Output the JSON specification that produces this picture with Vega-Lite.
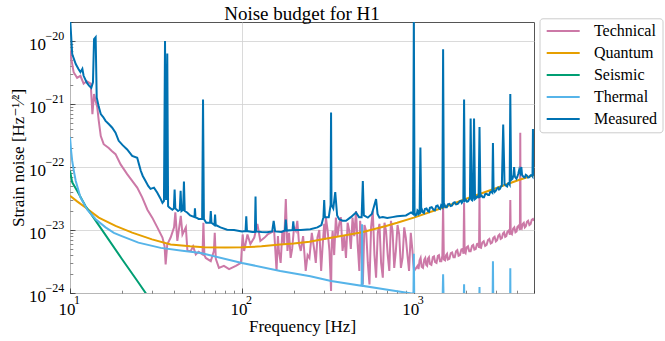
{
"$schema": "https://vega.github.io/schema/vega-lite/v6.json",
"width": 464, "height": 271,
"autosize": {"type": "none"},
"padding": {"left": 70, "top": 22, "right": 131, "bottom": 48},
"title": {"text": "Noise budget for H1", "font": "Liberation Serif, Times New Roman, DejaVu Serif, serif", "fontSize": 19, "fontWeight": "normal", "anchor": "middle", "frame": "group", "baseline": "alphabetic", "offset": -28.5, "color": "black"},
"config": {
  "view": {"stroke": "#555555", "strokeWidth": 1},
  "font": "Liberation Serif, Times New Roman, DejaVu Serif, serif",
  "legend": {"orient": "none", "legendX": 469.5, "legendY": -3.7, "symbolType": "M-1,0H5", "symbolSize": 121, "symbolStrokeWidth": 2, "labelFont": "Liberation Serif, Times New Roman, DejaVu Serif, serif", "labelFontSize": 16, "labelColor": "black", "labelOffset": 33.7, "padding": 4.7, "rowPadding": 6, "strokeColor": "#cccccc", "fillColor": "white", "cornerRadius": 3}
},
"data": {"values": [
{"s":"Technical","f":10,"v":7e-21},{"s":"Technical","f":10.2,"v":5e-21},{"s":"Technical","f":10.5,"v":3.2e-21},{"s":"Technical","f":11,"v":2.6e-21},{"s":"Technical","f":11.5,"v":2.8e-21},{"s":"Technical","f":12,"v":2.1e-21},{"s":"Technical","f":12.5,"v":2.3e-21},{"s":"Technical","f":13.2,"v":2.1e-21},{"s":"Technical","f":13.5,"v":6.9e-22},{"s":"Technical","f":13.8,"v":1.44e-21},{"s":"Technical","f":14.1,"v":1.1e-21},{"s":"Technical","f":14.4,"v":9e-22},{"s":"Technical","f":14.7,"v":5.4e-22},{"s":"Technical","f":15.1,"v":3.1e-22},{"s":"Technical","f":15.7,"v":2.3e-22},{"s":"Technical","f":16.8,"v":2.0e-22},{"s":"Technical","f":17.5,"v":1.8e-22},{"s":"Technical","f":18.4,"v":1.6e-22},{"s":"Technical","f":19.7,"v":1.1e-22},{"s":"Technical","f":21.5,"v":7.7e-23},{"s":"Technical","f":23,"v":6.0e-23},{"s":"Technical","f":24.6,"v":4.7e-23},{"s":"Technical","f":26.3,"v":3.3e-23},{"s":"Technical","f":28.2,"v":2.1e-23},{"s":"Technical","f":30.1,"v":1.57e-23},{"s":"Technical","f":32.2,"v":1.1e-23},{"s":"Technical","f":34.5,"v":7.6e-24},{"s":"Technical","f":35.5,"v":5.5e-24},{"s":"Technical","f":36,"v":2.85e-24},{"s":"Technical","f":36.8,"v":5.9e-24},{"s":"Technical","f":38.5,"v":7.6e-24},{"s":"Technical","f":40.3,"v":1.1e-23},{"s":"Technical","f":41,"v":1.9e-23},{"s":"Technical","f":42.1,"v":6.7e-24},{"s":"Technical","f":44.1,"v":1.68e-23},{"s":"Technical","f":45.1,"v":8.5e-24},{"s":"Technical","f":47.2,"v":1.1e-23},{"s":"Technical","f":48.2,"v":4.65e-24},{"s":"Technical","f":50.4,"v":4.65e-24},{"s":"Technical","f":52,"v":5.5e-24},{"s":"Technical","f":53.9,"v":4.1e-24},{"s":"Technical","f":56,"v":4.5e-24},{"s":"Technical","f":59,"v":4.1e-24},{"s":"Technical","f":59.7,"v":1.3e-23},{"s":"Technical","f":60.5,"v":4e-24},{"s":"Technical","f":61.6,"v":3.6e-24},{"s":"Technical","f":65.9,"v":3.2e-24},{"s":"Technical","f":68.7,"v":4.65e-24},{"s":"Technical","f":69.5,"v":9e-24},{"s":"Technical","f":70.5,"v":3.5e-24},{"s":"Technical","f":73.5,"v":2.5e-24},{"s":"Technical","f":78.6,"v":2.7e-24},{"s":"Technical","f":84.2,"v":2.4e-24},{"s":"Technical","f":92.2,"v":2.7e-24},{"s":"Technical","f":98.7,"v":3.0e-24},{"s":"Technical","f":101,"v":8.5e-24},{"s":"Technical","f":103,"v":4.65e-24},{"s":"Technical","f":107.7,"v":8.5e-24},{"s":"Technical","f":112,"v":6e-24},{"s":"Technical","f":118,"v":7.6e-24},{"s":"Technical","f":123,"v":1.25e-23},{"s":"Technical","f":128,"v":6.7e-24},{"s":"Technical","f":135,"v":7.5e-24},{"s":"Technical","f":141,"v":8.5e-24},{"s":"Technical","f":154,"v":9.7e-24},{"s":"Technical","f":159,"v":2.24e-24},{"s":"Technical","f":164,"v":4.65e-24},{"s":"Technical","f":172,"v":9.7e-24},{"s":"Technical","f":180,"v":3.1e-23},{"s":"Technical","f":184,"v":4.65e-24},{"s":"Technical","f":192,"v":3.6e-24},{"s":"Technical","f":206,"v":9.7e-24},{"s":"Technical","f":210,"v":1.4e-23},{"s":"Technical","f":220,"v":4.65e-24},{"s":"Technical","f":235,"v":2.24e-24},{"s":"Technical","f":247,"v":3.6e-24},{"s":"Technical","f":264,"v":4.65e-24},{"s":"Technical","f":275,"v":7.6e-24},{"s":"Technical","f":289,"v":2.24e-24},{"s":"Technical","f":301,"v":1.25e-23},{"s":"Technical","f":308,"v":1.57e-23},{"s":"Technical","f":323,"v":4.65e-24},{"s":"Technical","f":330,"v":1.08e-24},{"s":"Technical","f":337,"v":9.7e-24},{"s":"Technical","f":352,"v":1.57e-23},{"s":"Technical","f":368,"v":1.25e-23},{"s":"Technical","f":385,"v":4.65e-24},{"s":"Technical","f":403,"v":3.6e-24},{"s":"Technical","f":421,"v":9.7e-24},{"s":"Technical","f":440,"v":1.57e-23},{"s":"Technical","f":461,"v":2.0e-23},{"s":"Technical","f":482,"v":2.24e-24},{"s":"Technical","f":493,"v":9.7e-24},{"s":"Technical","f":505,"v":1.37e-24},{"s":"Technical","f":528,"v":9.7e-24},{"s":"Technical","f":552,"v":1.37e-24},{"s":"Technical","f":577,"v":2.0e-23},{"s":"Technical","f":603,"v":1.75e-24},{"s":"Technical","f":631,"v":1.25e-23},{"s":"Technical","f":660,"v":1.75e-24},{"s":"Technical","f":689,"v":9.7e-24},{"s":"Technical","f":720,"v":2.24e-24},{"s":"Technical","f":752,"v":9.7e-24},{"s":"Technical","f":786,"v":4.65e-24},{"s":"Technical","f":822,"v":8.5e-24},{"s":"Technical","f":860,"v":3.6e-24},{"s":"Technical","f":898,"v":7.6e-24},{"s":"Technical","f":938,"v":2.24e-24},{"s":"Technical","f":982,"v":4.65e-24},{"s":"Technical","f":1003,"v":2.24e-24},{"s":"Technical","f":1052,"v":2.7e-24},{"s":"Technical","f":1080,"v":3.3e-24},{"s":"Technical","f":1110,"v":2.6e-24},{"s":"Technical","f":1150,"v":3.4e-24},{"s":"Technical","f":1180,"v":2.8e-24},{"s":"Technical","f":1208,"v":3.5e-24},{"s":"Technical","f":1240,"v":2.9e-24},{"s":"Technical","f":1290,"v":3.7e-24},{"s":"Technical","f":1330,"v":3.1e-24},{"s":"Technical","f":1380,"v":3.9e-24},{"s":"Technical","f":1420,"v":3.2e-24},{"s":"Technical","f":1465,"v":3.9e-24},{"s":"Technical","f":1480,"v":2.5e-23},{"s":"Technical","f":1495,"v":3.4e-24},{"s":"Technical","f":1540,"v":4.0e-24},{"s":"Technical","f":1578,"v":3.4e-24},{"s":"Technical","f":1640,"v":4.3e-24},{"s":"Technical","f":1700,"v":3.7e-24},{"s":"Technical","f":1760,"v":4.6e-24},{"s":"Technical","f":1820,"v":3.9e-24},{"s":"Technical","f":1890,"v":4.9e-24},{"s":"Technical","f":1945,"v":4.2e-24},{"s":"Technical","f":1960,"v":2.7e-23},{"s":"Technical","f":1975,"v":4.5e-24},{"s":"Technical","f":2030,"v":5.3e-24},{"s":"Technical","f":2100,"v":4.6e-24},{"s":"Technical","f":2180,"v":5.6e-24},{"s":"Technical","f":2250,"v":4.9e-24},{"s":"Technical","f":2330,"v":6.0e-24},{"s":"Technical","f":2395,"v":5.2e-24},{"s":"Technical","f":2410,"v":3.9e-23},{"s":"Technical","f":2425,"v":5.3e-24},{"s":"Technical","f":2500,"v":6.3e-24},{"s":"Technical","f":2600,"v":5.6e-24},{"s":"Technical","f":2700,"v":6.9e-24},{"s":"Technical","f":2800,"v":6.1e-24},{"s":"Technical","f":2900,"v":7.5e-24},{"s":"Technical","f":3000,"v":6.6e-24},{"s":"Technical","f":3100,"v":8.1e-24},{"s":"Technical","f":3200,"v":7.2e-24},{"s":"Technical","f":3300,"v":8.8e-24},{"s":"Technical","f":3400,"v":7.8e-24},{"s":"Technical","f":3500,"v":9.4e-24},{"s":"Technical","f":3620,"v":8.4e-24},{"s":"Technical","f":3640,"v":3.0e-23},{"s":"Technical","f":3660,"v":9.0e-24},{"s":"Technical","f":3780,"v":1.05e-23},{"s":"Technical","f":3900,"v":9.2e-24},{"s":"Technical","f":4000,"v":1.12e-23},{"s":"Technical","f":4140,"v":1.0e-23},{"s":"Technical","f":4160,"v":3.5e-22},{"s":"Technical","f":4180,"v":1.1e-23},{"s":"Technical","f":4300,"v":1.25e-23},{"s":"Technical","f":4420,"v":1.1e-23},{"s":"Technical","f":4550,"v":1.35e-23},{"s":"Technical","f":4700,"v":1.2e-23},{"s":"Technical","f":4850,"v":1.45e-23},{"s":"Technical","f":5000,"v":1.4e-23},
{"s":"Quantum","f":10,"v":3.5e-23},{"s":"Quantum","f":11,"v":2.85e-23},{"s":"Quantum","f":12.3,"v":2.27e-23},{"s":"Quantum","f":14.7,"v":1.57e-23},{"s":"Quantum","f":18.4,"v":1.16e-23},{"s":"Quantum","f":23,"v":9.1e-24},{"s":"Quantum","f":30,"v":7.1e-24},{"s":"Quantum","f":38.5,"v":5.9e-24},{"s":"Quantum","f":50,"v":5.5e-24},{"s":"Quantum","f":60,"v":5.3e-24},{"s":"Quantum","f":80,"v":5.25e-24},{"s":"Quantum","f":100,"v":5.3e-24},{"s":"Quantum","f":130,"v":5.5e-24},{"s":"Quantum","f":167,"v":5.9e-24},{"s":"Quantum","f":200,"v":6.1e-24},{"s":"Quantum","f":247,"v":6.5e-24},{"s":"Quantum","f":300,"v":7.2e-24},{"s":"Quantum","f":385,"v":8.1e-24},{"s":"Quantum","f":500,"v":9.2e-24},{"s":"Quantum","f":689,"v":1.16e-23},{"s":"Quantum","f":800,"v":1.3e-23},{"s":"Quantum","f":1000,"v":1.57e-23},{"s":"Quantum","f":1500,"v":2.3e-23},{"s":"Quantum","f":2000,"v":3.1e-23},{"s":"Quantum","f":3000,"v":4.6e-23},{"s":"Quantum","f":4000,"v":6.1e-23},{"s":"Quantum","f":5000,"v":7.5e-23},
{"s":"Seismic","f":10,"v":8.7e-23},{"s":"Seismic","f":10.3,"v":5.7e-23},{"s":"Seismic","f":11,"v":4.2e-23},{"s":"Seismic","f":12.3,"v":2.4e-23},{"s":"Seismic","f":15,"v":1.1e-23},{"s":"Seismic","f":20,"v":3.5e-24},{"s":"Seismic","f":25,"v":1.47e-24},{"s":"Seismic","f":30,"v":7.1e-25},
{"s":"Thermal","f":10,"v":3.0e-22},{"s":"Thermal","f":10.15,"v":1.8e-22},{"s":"Thermal","f":10.3,"v":1.25e-22},{"s":"Thermal","f":10.5,"v":9e-23},{"s":"Thermal","f":10.8,"v":6.0e-23},{"s":"Thermal","f":11.5,"v":3.3e-23},{"s":"Thermal","f":12.6,"v":2.1e-23},{"s":"Thermal","f":14.1,"v":1.48e-23},{"s":"Thermal","f":16.1,"v":1.1e-23},{"s":"Thermal","f":18,"v":9e-24},{"s":"Thermal","f":20,"v":8e-24},{"s":"Thermal","f":25,"v":6.3e-24},{"s":"Thermal","f":33.7,"v":5.2e-24},{"s":"Thermal","f":45,"v":4.7e-24},{"s":"Thermal","f":57.7,"v":4.3e-24},{"s":"Thermal","f":100,"v":3.0e-24},{"s":"Thermal","f":167,"v":2.24e-24},{"s":"Thermal","f":250,"v":1.85e-24},{"s":"Thermal","f":330,"v":1.55e-24},{"s":"Thermal","f":497,"v":1.3e-24},{"s":"Thermal","f":500,"v":1.23e-23},{"s":"Thermal","f":503,"v":1.3e-24},{"s":"Thermal","f":689,"v":1.14e-24},{"s":"Thermal","f":995,"v":9.7e-25},{"s":"Thermal","f":1000,"v":4.2e-24},{"s":"Thermal","f":1005,"v":9.6e-25},{"s":"Thermal","f":1200,"v":8.5e-25},{"s":"Thermal","f":1470,"v":8e-25},{"s":"Thermal","f":1480,"v":1.98e-24},{"s":"Thermal","f":1490,"v":8e-25},{"s":"Thermal","f":1950,"v":7e-25},{"s":"Thermal","f":1960,"v":1.37e-24},{"s":"Thermal","f":1970,"v":7e-25},{"s":"Thermal","f":2400,"v":6.5e-25},{"s":"Thermal","f":2410,"v":1.25e-24},{"s":"Thermal","f":2420,"v":6.5e-25},{"s":"Thermal","f":2870,"v":6e-25},{"s":"Thermal","f":2885,"v":3.2e-24},{"s":"Thermal","f":2900,"v":6e-25},{"s":"Thermal","f":3630,"v":5.5e-25},{"s":"Thermal","f":3640,"v":2.46e-24},{"s":"Thermal","f":3650,"v":5.5e-25},{"s":"Thermal","f":5000,"v":5e-25},
{"s":"Measured","f":10,"v":2.5e-20},{"s":"Measured","f":10.3,"v":6.2e-21},{"s":"Measured","f":10.8,"v":4.3e-21},{"s":"Measured","f":11.2,"v":3.6e-21},{"s":"Measured","f":11.5,"v":3.2e-21},{"s":"Measured","f":11.8,"v":3.6e-21},{"s":"Measured","f":12,"v":2.8e-21},{"s":"Measured","f":12.5,"v":2.2e-21},{"s":"Measured","f":12.9,"v":1.95e-21},{"s":"Measured","f":13.3,"v":1.8e-21},{"s":"Measured","f":13.6,"v":2.2e-21},{"s":"Measured","f":13.8,"v":1.07e-20},{"s":"Measured","f":14.1,"v":1.15e-20},{"s":"Measured","f":14.3,"v":1.27e-21},{"s":"Measured","f":14.7,"v":9e-22},{"s":"Measured","f":15.1,"v":6.9e-22},{"s":"Measured","f":15.6,"v":6.2e-22},{"s":"Measured","f":16.1,"v":5.4e-22},{"s":"Measured","f":16.8,"v":4.8e-22},{"s":"Measured","f":17.6,"v":4.2e-22},{"s":"Measured","f":18.4,"v":3.5e-22},{"s":"Measured","f":19.2,"v":2.6e-22},{"s":"Measured","f":20.3,"v":2.2e-22},{"s":"Measured","f":21.5,"v":1.9e-22},{"s":"Measured","f":23,"v":1.5e-22},{"s":"Measured","f":24.6,"v":1.4e-22},{"s":"Measured","f":25.2,"v":1.1e-22},{"s":"Measured","f":25.8,"v":8.7e-23},{"s":"Measured","f":26.5,"v":7.2e-23},{"s":"Measured","f":27.5,"v":6.0e-23},{"s":"Measured","f":28.5,"v":5.0e-23},{"s":"Measured","f":29.4,"v":4.5e-23},{"s":"Measured","f":30.8,"v":4.7e-23},{"s":"Measured","f":32.2,"v":3.9e-23},{"s":"Measured","f":33.5,"v":3.2e-23},{"s":"Measured","f":34.5,"v":2.7e-23},{"s":"Measured","f":35.2,"v":2.9e-23},{"s":"Measured","f":35.7,"v":1.0e-20},{"s":"Measured","f":36.2,"v":3e-23},{"s":"Measured","f":36.8,"v":6.3e-21},{"s":"Measured","f":37.2,"v":2.4e-23},{"s":"Measured","f":37.7,"v":2.3e-23},{"s":"Measured","f":39.4,"v":2.1e-23},{"s":"Measured","f":40.2,"v":2.2e-23},{"s":"Measured","f":40.6,"v":4.4e-23},{"s":"Measured","f":41,"v":2.2e-23},{"s":"Measured","f":42.5,"v":2.0e-23},{"s":"Measured","f":43.5,"v":2.1e-23},{"s":"Measured","f":44,"v":4.2e-23},{"s":"Measured","f":44.5,"v":2.0e-23},{"s":"Measured","f":45.5,"v":2.1e-23},{"s":"Measured","f":46,"v":5.9e-23},{"s":"Measured","f":46.5,"v":2.0e-23},{"s":"Measured","f":48,"v":1.9e-23},{"s":"Measured","f":50,"v":1.7e-23},{"s":"Measured","f":53,"v":1.6e-23},{"s":"Measured","f":53.3,"v":2.2e-23},{"s":"Measured","f":53.7,"v":1.6e-23},{"s":"Measured","f":56,"v":1.5e-23},{"s":"Measured","f":58.7,"v":1.5e-23},{"s":"Measured","f":59.4,"v":1.18e-21},{"s":"Measured","f":60.1,"v":1.5e-23},{"s":"Measured","f":62,"v":1.3e-23},{"s":"Measured","f":65.3,"v":1.3e-23},{"s":"Measured","f":65.9,"v":2.0e-23},{"s":"Measured","f":66.5,"v":1.3e-23},{"s":"Measured","f":69.2,"v":1.2e-23},{"s":"Measured","f":69.8,"v":1.76e-23},{"s":"Measured","f":70.4,"v":1.2e-23},{"s":"Measured","f":75,"v":1.1e-23},{"s":"Measured","f":82,"v":1.01e-23},{"s":"Measured","f":90,"v":1.0e-23},{"s":"Measured","f":100,"v":9.5e-24},{"s":"Measured","f":105,"v":9.6e-24},{"s":"Measured","f":106,"v":1.65e-23},{"s":"Measured","f":107,"v":9.6e-24},{"s":"Measured","f":115,"v":9.3e-24},{"s":"Measured","f":119,"v":9.3e-24},{"s":"Measured","f":120,"v":3.4e-23},{"s":"Measured","f":121,"v":9.5e-24},{"s":"Measured","f":130,"v":9.3e-24},{"s":"Measured","f":140,"v":9.2e-24},{"s":"Measured","f":150,"v":9.5e-24},{"s":"Measured","f":153,"v":1.4e-23},{"s":"Measured","f":156,"v":9.5e-24},{"s":"Measured","f":170,"v":9.3e-24},{"s":"Measured","f":178,"v":9.8e-24},{"s":"Measured","f":180,"v":1.46e-23},{"s":"Measured","f":182,"v":9.8e-24},{"s":"Measured","f":197,"v":1.0e-23},{"s":"Measured","f":199,"v":1.37e-23},{"s":"Measured","f":201,"v":1.0e-23},{"s":"Measured","f":220,"v":1.0e-23},{"s":"Measured","f":250,"v":1.03e-23},{"s":"Measured","f":275,"v":1.1e-23},{"s":"Measured","f":290,"v":1.2e-23},{"s":"Measured","f":298,"v":1.6e-23},{"s":"Measured","f":301,"v":3.0e-23},{"s":"Measured","f":304,"v":1.6e-23},{"s":"Measured","f":320,"v":1.6e-23},{"s":"Measured","f":328,"v":2.5e-23},{"s":"Measured","f":330,"v":7.3e-22},{"s":"Measured","f":332,"v":2.5e-23},{"s":"Measured","f":340,"v":2.2e-23},{"s":"Measured","f":349,"v":4.0e-23},{"s":"Measured","f":358,"v":1.7e-23},{"s":"Measured","f":368,"v":1.48e-23},{"s":"Measured","f":385,"v":1.4e-23},{"s":"Measured","f":403,"v":1.4e-23},{"s":"Measured","f":430,"v":1.6e-23},{"s":"Measured","f":461,"v":1.9e-23},{"s":"Measured","f":480,"v":1.6e-23},{"s":"Measured","f":497,"v":1.6e-23},{"s":"Measured","f":505,"v":6.0e-23},{"s":"Measured","f":512,"v":1.7e-23},{"s":"Measured","f":540,"v":1.57e-23},{"s":"Measured","f":570,"v":1.8e-23},{"s":"Measured","f":603,"v":3.1e-23},{"s":"Measured","f":615,"v":1.8e-23},{"s":"Measured","f":631,"v":1.57e-23},{"s":"Measured","f":660,"v":1.6e-23},{"s":"Measured","f":700,"v":1.55e-23},{"s":"Measured","f":750,"v":1.6e-23},{"s":"Measured","f":800,"v":1.65e-23},{"s":"Measured","f":900,"v":1.7e-23},{"s":"Measured","f":964,"v":1.9e-23},{"s":"Measured","f":990,"v":1.8e-23},{"s":"Measured","f":1000,"v":2.5e-20},{"s":"Measured","f":1010,"v":1.9e-23},{"s":"Measured","f":1040,"v":1.75e-23},{"s":"Measured","f":1060,"v":2.0e-23},{"s":"Measured","f":1080,"v":1.85e-23},{"s":"Measured","f":1092,"v":2.04e-22},{"s":"Measured","f":1104,"v":2.0e-23},{"s":"Measured","f":1130,"v":1.9e-23},{"s":"Measured","f":1160,"v":2.15e-23},{"s":"Measured","f":1208,"v":2.0e-23},{"s":"Measured","f":1240,"v":2.25e-23},{"s":"Measured","f":1300,"v":2.1e-23},{"s":"Measured","f":1350,"v":2.4e-23},{"s":"Measured","f":1400,"v":2.2e-23},{"s":"Measured","f":1440,"v":2.45e-23},{"s":"Measured","f":1465,"v":2.3e-23},{"s":"Measured","f":1480,"v":7.4e-21},{"s":"Measured","f":1495,"v":2.4e-23},{"s":"Measured","f":1530,"v":2.3e-23},{"s":"Measured","f":1578,"v":2.55e-23},{"s":"Measured","f":1640,"v":2.4e-23},{"s":"Measured","f":1700,"v":2.7e-23},{"s":"Measured","f":1760,"v":2.55e-23},{"s":"Measured","f":1850,"v":2.85e-23},{"s":"Measured","f":1900,"v":2.7e-23},{"s":"Measured","f":1940,"v":2.95e-23},{"s":"Measured","f":1960,"v":1.18e-21},{"s":"Measured","f":1980,"v":2.9e-23},{"s":"Measured","f":2040,"v":2.8e-23},{"s":"Measured","f":2100,"v":3.1e-23},{"s":"Measured","f":2140,"v":5.9e-22},{"s":"Measured","f":2170,"v":3.0e-23},{"s":"Measured","f":2210,"v":3.2e-23},{"s":"Measured","f":2240,"v":5.9e-22},{"s":"Measured","f":2270,"v":3.1e-23},{"s":"Measured","f":2330,"v":3.4e-23},{"s":"Measured","f":2380,"v":3.2e-23},{"s":"Measured","f":2410,"v":4.3e-22},{"s":"Measured","f":2440,"v":3.4e-23},{"s":"Measured","f":2520,"v":3.3e-23},{"s":"Measured","f":2600,"v":3.7e-23},{"s":"Measured","f":2700,"v":3.6e-23},{"s":"Measured","f":2780,"v":4.0e-23},{"s":"Measured","f":2860,"v":3.9e-23},{"s":"Measured","f":2885,"v":2.4e-22},{"s":"Measured","f":2910,"v":4.3e-23},{"s":"Measured","f":3000,"v":4.2e-23},{"s":"Measured","f":3090,"v":4.7e-23},{"s":"Measured","f":3170,"v":4.5e-23},{"s":"Measured","f":3250,"v":5.0e-23},{"s":"Measured","f":3310,"v":4.7e-22},{"s":"Measured","f":3370,"v":5.3e-23},{"s":"Measured","f":3450,"v":5.0e-23},{"s":"Measured","f":3530,"v":5.5e-23},{"s":"Measured","f":3610,"v":5.3e-23},{"s":"Measured","f":3640,"v":1.44e-21},{"s":"Measured","f":3680,"v":6.2e-23},{"s":"Measured","f":3750,"v":6.5e-23},{"s":"Measured","f":3800,"v":7.5e-23},{"s":"Measured","f":3830,"v":1.0e-22},{"s":"Measured","f":3870,"v":7.0e-23},{"s":"Measured","f":3950,"v":6.5e-23},{"s":"Measured","f":4050,"v":7.8e-23},{"s":"Measured","f":4100,"v":9e-23},{"s":"Measured","f":4160,"v":8e-23},{"s":"Measured","f":4220,"v":1.0e-22},{"s":"Measured","f":4300,"v":7.2e-23},{"s":"Measured","f":4420,"v":6.8e-23},{"s":"Measured","f":4550,"v":7.3e-23},{"s":"Measured","f":4700,"v":6.9e-23},{"s":"Measured","f":4850,"v":7.4e-23},{"s":"Measured","f":4900,"v":7.1e-23},{"s":"Measured","f":4930,"v":4.0e-22},{"s":"Measured","f":4960,"v":7.5e-23},{"s":"Measured","f":5000,"v":7.3e-23},
{"s":"Technical","f":162,"v":8e-24},{"s":"Technical","f":168,"v":3e-24},{"s":"Technical","f":176,"v":6e-24},{"s":"Technical","f":188,"v":9e-24},{"s":"Technical","f":196,"v":5e-24},{"s":"Technical","f":201,"v":1.1e-23},{"s":"Technical","f":215,"v":6e-24},{"s":"Technical","f":227,"v":8e-24},{"s":"Technical","f":241,"v":4e-24},{"s":"Technical","f":255,"v":9e-24},{"s":"Technical","f":269,"v":3e-24},{"s":"Technical","f":282,"v":1e-23},{"s":"Technical","f":294,"v":5e-24},{"s":"Technical","f":304,"v":7e-24},{"s":"Technical","f":315,"v":1.0e-23},{"s":"Technical","f":326,"v":2.5e-24},{"s":"Technical","f":333,"v":6e-24},{"s":"Technical","f":344,"v":4e-24},{"s":"Technical","f":360,"v":8e-24},{"s":"Technical","f":376,"v":1.6e-23},{"s":"Technical","f":394,"v":8e-24},{"s":"Technical","f":412,"v":1.3e-23},{"s":"Technical","f":430,"v":5e-24},{"s":"Technical","f":450,"v":8e-24},{"s":"Technical","f":471,"v":6e-24},{"s":"Technical","f":487,"v":1.4e-23},{"s":"Technical","f":499,"v":3e-24},{"s":"Technical","f":516,"v":1.2e-23},{"s":"Technical","f":540,"v":3e-24},{"s":"Technical","f":564,"v":1.1e-23},{"s":"Technical","f":590,"v":4e-24},{"s":"Technical","f":617,"v":9e-24},{"s":"Technical","f":645,"v":3e-24},{"s":"Technical","f":675,"v":1.3e-23},{"s":"Technical","f":705,"v":4e-24},{"s":"Technical","f":736,"v":1.4e-23},{"s":"Technical","f":769,"v":2.5e-24},{"s":"Technical","f":804,"v":1.2e-23},{"s":"Technical","f":841,"v":2.5e-24},{"s":"Technical","f":879,"v":1.1e-23},{"s":"Technical","f":918,"v":4e-24},{"s":"Technical","f":960,"v":9e-24},{"s":"Technical","f":992,"v":3e-24},
{"s":"Technical","f":1065,"v":2.4e-24},{"s":"Technical","f":1095,"v":3.6e-24},{"s":"Technical","f":1130,"v":2.5e-24},{"s":"Technical","f":1165,"v":3.6e-24},{"s":"Technical","f":1195,"v":2.7e-24},{"s":"Technical","f":1225,"v":3.7e-24},{"s":"Technical","f":1265,"v":2.8e-24},{"s":"Technical","f":1310,"v":3.8e-24},{"s":"Technical","f":1355,"v":3.0e-24},{"s":"Technical","f":1400,"v":4.0e-24},{"s":"Technical","f":1445,"v":3.2e-24},{"s":"Technical","f":1520,"v":3.3e-24},{"s":"Technical","f":1560,"v":4.2e-24},{"s":"Technical","f":1610,"v":3.5e-24},{"s":"Technical","f":1670,"v":4.4e-24},{"s":"Technical","f":1730,"v":3.7e-24},{"s":"Technical","f":1790,"v":4.8e-24},{"s":"Technical","f":1855,"v":4.0e-24},{"s":"Technical","f":1920,"v":5.0e-24},{"s":"Technical","f":2000,"v":4.3e-24},{"s":"Technical","f":2065,"v":5.5e-24},{"s":"Technical","f":2140,"v":4.6e-24},{"s":"Technical","f":2215,"v":5.8e-24},{"s":"Technical","f":2290,"v":5.0e-24},{"s":"Technical","f":2365,"v":6.1e-24},{"s":"Technical","f":2460,"v":5.2e-24},{"s":"Technical","f":2550,"v":6.6e-24},{"s":"Technical","f":2650,"v":5.8e-24},{"s":"Technical","f":2750,"v":7.2e-24},{"s":"Technical","f":2850,"v":6.3e-24},{"s":"Technical","f":2950,"v":7.8e-24},{"s":"Technical","f":3050,"v":6.9e-24},{"s":"Technical","f":3150,"v":8.5e-24},{"s":"Technical","f":3250,"v":7.4e-24},{"s":"Technical","f":3350,"v":9.2e-24},{"s":"Technical","f":3450,"v":8.0e-24},{"s":"Technical","f":3560,"v":9.8e-24},{"s":"Technical","f":3720,"v":8.6e-24},{"s":"Technical","f":3840,"v":1.1e-23},{"s":"Technical","f":3960,"v":9.5e-24},{"s":"Technical","f":4070,"v":1.17e-23},{"s":"Technical","f":4240,"v":1.05e-23},{"s":"Technical","f":4360,"v":1.3e-23},{"s":"Technical","f":4480,"v":1.15e-23},{"s":"Technical","f":4620,"v":1.4e-23},{"s":"Technical","f":4780,"v":1.25e-23},{"s":"Technical","f":4930,"v":1.5e-23},
{"s":"Measured","f":1020,"v":1.7e-23},{"s":"Measured","f":1050,"v":2.05e-23},{"s":"Measured","f":1070,"v":1.8e-23},{"s":"Measured","f":1115,"v":2.1e-23},{"s":"Measured","f":1145,"v":1.85e-23},{"s":"Measured","f":1185,"v":2.2e-23},{"s":"Measured","f":1225,"v":1.95e-23},{"s":"Measured","f":1270,"v":2.3e-23},{"s":"Measured","f":1325,"v":2.05e-23},{"s":"Measured","f":1375,"v":2.45e-23},{"s":"Measured","f":1420,"v":2.15e-23},{"s":"Measured","f":1510,"v":2.5e-23},{"s":"Measured","f":1555,"v":2.3e-23},{"s":"Measured","f":1610,"v":2.6e-23},{"s":"Measured","f":1670,"v":2.45e-23},{"s":"Measured","f":1730,"v":2.75e-23},{"s":"Measured","f":1800,"v":2.6e-23},{"s":"Measured","f":1880,"v":2.9e-23},{"s":"Measured","f":2010,"v":3.0e-23},{"s":"Measured","f":2070,"v":2.85e-23},{"s":"Measured","f":2120,"v":3.15e-23},{"s":"Measured","f":2190,"v":2.95e-23},{"s":"Measured","f":2300,"v":3.2e-23},{"s":"Measured","f":2355,"v":3.45e-23},{"s":"Measured","f":2480,"v":3.5e-23},{"s":"Measured","f":2560,"v":3.3e-23},{"s":"Measured","f":2650,"v":3.75e-23},{"s":"Measured","f":2740,"v":3.6e-23},{"s":"Measured","f":2820,"v":4.05e-23},{"s":"Measured","f":2950,"v":4.0e-23},{"s":"Measured","f":3040,"v":4.5e-23},{"s":"Measured","f":3130,"v":4.4e-23},{"s":"Measured","f":3210,"v":4.9e-23},{"s":"Measured","f":3410,"v":5.2e-23},{"s":"Measured","f":3490,"v":4.9e-23},{"s":"Measured","f":3570,"v":5.6e-23},{"s":"Measured","f":4000,"v":7.0e-23},{"s":"Measured","f":4130,"v":8.4e-23},{"s":"Measured","f":4190,"v":9.3e-23},{"s":"Measured","f":4260,"v":7.5e-23},{"s":"Measured","f":4360,"v":6.9e-23},{"s":"Measured","f":4480,"v":7.5e-23},{"s":"Measured","f":4620,"v":6.8e-23},{"s":"Measured","f":4780,"v":7.4e-23}
]},
"resolve": {"axis": {"x": "independent", "y": "independent"}},
"layer": [
  {
    "mark": {"type": "line", "clip": true, "strokeWidth": 2},
    "encoding": {
      "x": {"field": "f", "type": "quantitative", "scale": {"type": "log", "domain": [10, 5000], "nice": false},
        "axis": {"orient": "bottom", "values": [10, 100, 1000], "labelExpr": "'10'", "labelFont": "Liberation Serif, Times New Roman, DejaVu Serif, serif", "labelFontSize": 17, "labelColor": "black", "labelBaseline": "alphabetic", "labelPadding": 26.7, "labelOffset": -3.5, "labelFlush": false, "labelOverlap": false, "grid": true, "gridColor": "#d0d0d0", "gridWidth": 0.8, "ticks": true, "tickSize": -5, "tickColor": "#333333", "tickWidth": 0.8, "domain": false, "title": "Frequency [Hz]", "titleFont": "Liberation Serif, Times New Roman, DejaVu Serif, serif", "titleFontSize": 17, "titleFontWeight": "normal", "titleColor": "black", "titleBaseline": "alphabetic", "titleX": 232, "titleY": 38.5, "titleAnchor": "middle", "titleAlign": "center"}},
      "y": {"field": "v", "type": "quantitative", "scale": {"type": "log", "domain": [1e-24, 2e-20], "nice": false},
        "axis": {"orient": "left", "values": [1e-24, 1e-23, 1e-22, 1e-21, 1e-20], "labelExpr": "'10'", "labelFont": "Liberation Serif, Times New Roman, DejaVu Serif, serif", "labelFontSize": 17, "labelColor": "black", "labelAlign": "right", "labelBaseline": "alphabetic", "labelPadding": 29.5, "labelOffset": 8.7, "labelFlush": false, "labelOverlap": false, "grid": true, "gridColor": "#d0d0d0", "gridWidth": 0.8, "ticks": true, "tickSize": -5, "tickColor": "#333333", "tickWidth": 0.8, "domain": false, "title": "Strain noise [Hz⁻¹⁄²]", "titleFont": "Liberation Serif, Times New Roman, DejaVu Serif, serif", "titleFontSize": 17, "titleFontWeight": "normal", "titleColor": "black", "titleAngle": -90, "titleBaseline": "alphabetic", "titleAlign": "center", "titleX": -47, "titleY": 135.5}},
      "color": {"field": "s", "type": "nominal", "scale": {"domain": ["Technical", "Quantum", "Seismic", "Thermal", "Measured"], "range": ["#CC79A7", "#E69F00", "#009E73", "#56B4E9", "#0072B2"]}, "legend": {"title": null}},
      "strokeWidth": {"condition": {"test": "datum.s === 'Measured'", "value": 2.4}, "value": 2}
    }
  },
  {
    "mark": {"type": "line", "opacity": 0},
    "encoding": {
      "x": {"field": "f", "type": "quantitative",
        "axis": {"orient": "bottom", "values": [10, 20, 30, 40, 50, 60, 70, 80, 90, 100, 200, 300, 400, 500, 600, 700, 800, 900, 1000, 2000, 3000, 4000, 5000], "labelExpr": "abs(log(datum.value)/LN10 - round(log(datum.value)/LN10)) < 0.001 ? format(round(log(datum.value)/LN10), 'd') : ''", "labelFont": "Liberation Serif, Times New Roman, DejaVu Serif, serif", "labelFontSize": 12, "labelColor": "black", "labelBaseline": "alphabetic", "labelPadding": 13.5, "labelOffset": 6.5, "labelFlush": false, "labelOverlap": false, "grid": false, "ticks": true, "tickSize": -2.8, "tickColor": "#333333", "tickWidth": 0.6, "domain": false, "title": null}},
      "y": {"field": "v", "type": "quantitative",
        "axis": {"orient": "left", "values": [1e-24, 2e-24, 3e-24, 4e-24, 5e-24, 6e-24, 7e-24, 8e-24, 9e-24, 1e-23, 2e-23, 3e-23, 4e-23, 5e-23, 6e-23, 7e-23, 8e-23, 9e-23, 1e-22, 2e-22, 3e-22, 4e-22, 5e-22, 6e-22, 7e-22, 8e-22, 9e-22, 1e-21, 2e-21, 3e-21, 4e-21, 5e-21, 6e-21, 7e-21, 8e-21, 9e-21, 1e-20, 2e-20], "labelExpr": "abs(log(datum.value)/LN10 - round(log(datum.value)/LN10)) < 0.001 ? '−' + format(-round(log(datum.value)/LN10), 'd') : ''", "labelFont": "Liberation Serif, Times New Roman, DejaVu Serif, serif", "labelFontSize": 12, "labelColor": "black", "labelAlign": "right", "labelBaseline": "alphabetic", "labelPadding": 9, "labelOffset": -1.3, "labelFlush": false, "labelOverlap": false, "grid": false, "ticks": true, "tickSize": -2.8, "tickColor": "#333333", "tickWidth": 0.6, "domain": false, "title": null}}
    }
  }
]
}
